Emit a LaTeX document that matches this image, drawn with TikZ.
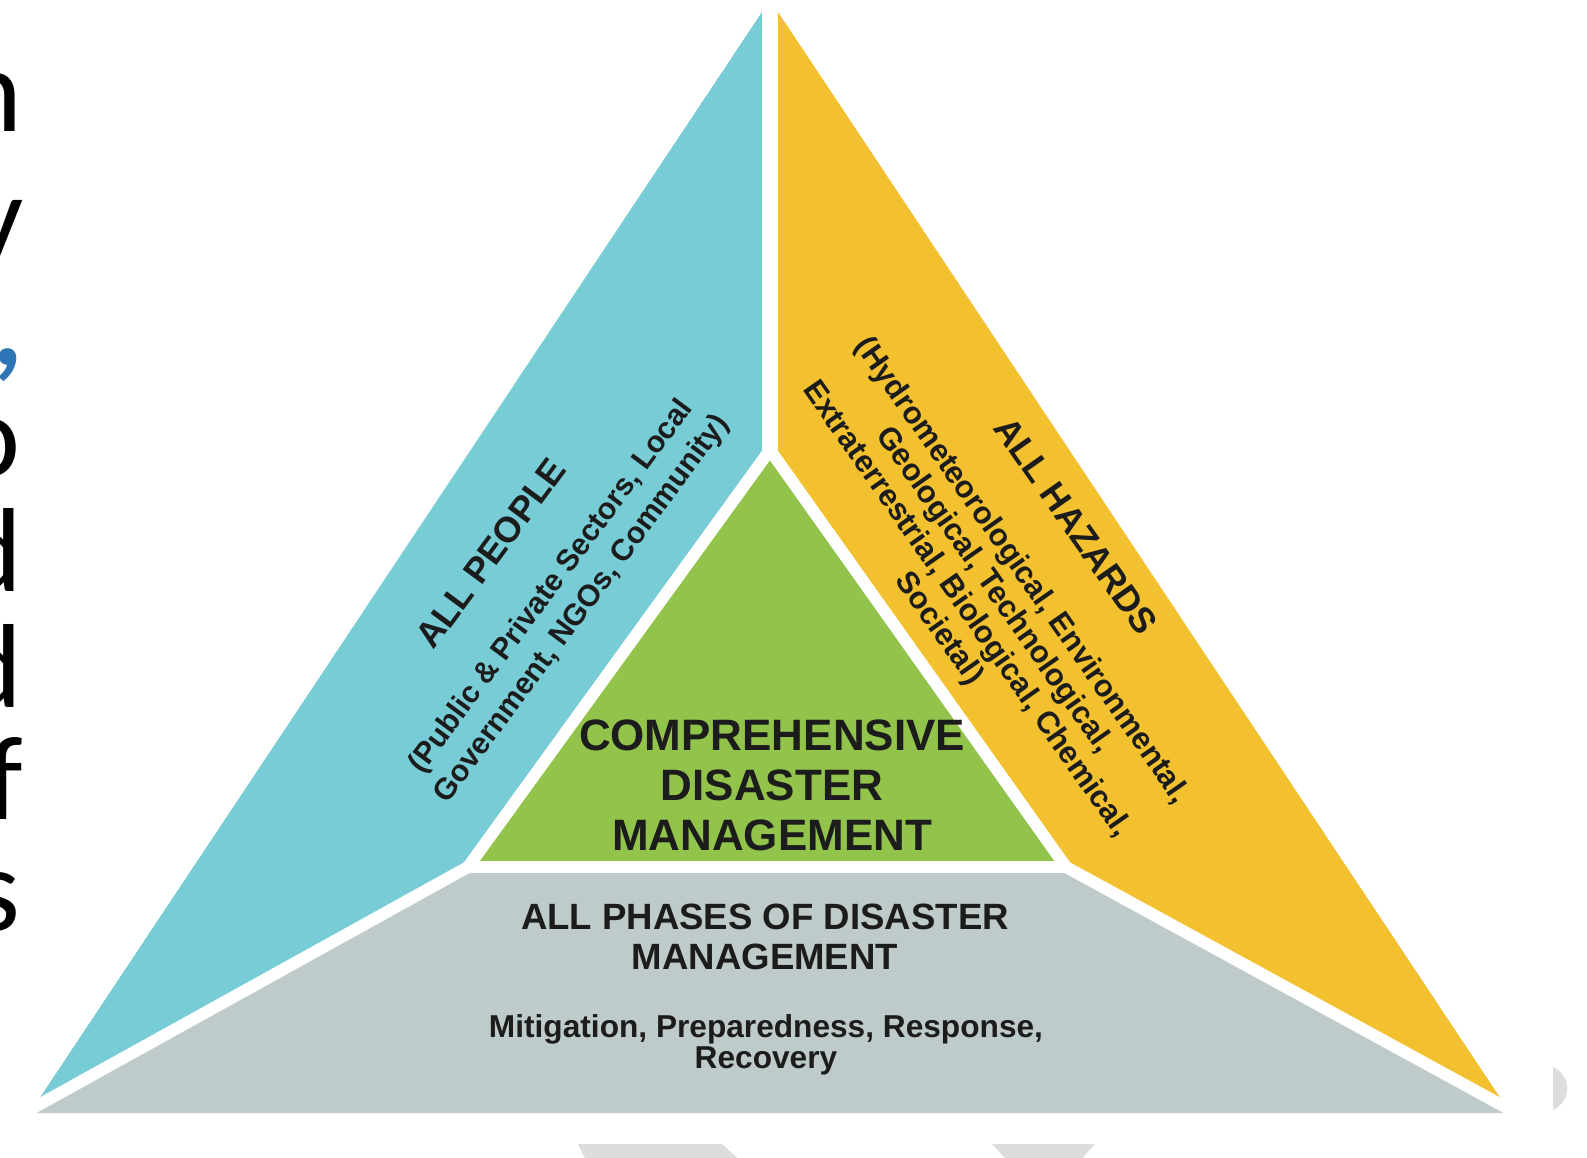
\documentclass[tikz,border=0pt]{standalone}
\usepackage{fontspec}
\setmainfont{Liberation Sans}
\newfontfamily\slidefont{Carlito}
\usetikzlibrary{calc}
\definecolor{peopleblue}{HTML}{78CCD6}
\definecolor{hazardyellow}{HTML}{F3C12F}
\definecolor{coregreen}{HTML}{92C34A}
\definecolor{phasegray}{HTML}{BECBCA}
\definecolor{markgray}{HTML}{DDDDDD}
\definecolor{commablue}{HTML}{2E75B6}
\definecolor{inkdark}{HTML}{1C1C1C}
\tikzset{
  tri text/.style={text=inkdark, align=center, inner sep=0pt},
  head text/.style={tri text, font=\fontsize{10.2}{12}\selectfont\bfseries},
  sub text/.style={tri text, font=\fontsize{8.6}{10.8}\selectfont\bfseries},
  slide letter/.style={anchor=base east, inner sep=0pt, font=\slidefont\fontsize{34}{34}\selectfont},
  gap line/.style={draw=white, line width=3.4pt, line join=miter},
}

\begin{document}
\begin{tikzpicture}[x=0.01cm, y=-0.01cm]
\useasboundingbox (0,0) rectangle (1587,1158);
\clip (0,0) rectangle (1587,1158);

% Corners of the big triangle and its parts
\coordinate (top) at (770,0);
\coordinate (core) at (770,450);
\coordinate (left) at (468,867);
\coordinate (right) at (1066,867);
\coordinate (outL) at (33,1108);
\coordinate (outR) at (1507,1108);
\coordinate (baseL) at (30,1113);
\coordinate (baseR) at (1512,1113);

% Fill the four parts
\fill[peopleblue] (top) -- (core) -- (left) -- (outL) -- cycle;
\fill[hazardyellow] (top) -- (core) -- (right) -- (outR) -- cycle;
\fill[coregreen] (core) -- (left) -- (right) -- cycle;
\fill[phasegray] (left) -- (right) -- (outR) -- (baseR) -- (baseL) -- (outL) -- cycle;

% White gaps between the parts
\draw[gap line, line width=4.3pt] ($(top)+(0,-20)$) -- (core);
\draw[gap line] (left) -- (core) -- (right) -- cycle;
\draw[gap line] (left) -- ($(left)!1.08!(outL)$);
\draw[gap line] (right) -- ($(right)!1.08!(outR)$);

% Labels in the parts
\node[tri text, font=\fontsize{12.5}{14.2}\selectfont\bfseries] (core text) at (772,785) {COMPREHENSIVE\\DISASTER\\MANAGEMENT};
\node[tri text, font=\fontsize{10.4}{11.4}\selectfont\bfseries] (phase head) at (765,937) {ALL PHASES OF DISASTER\\MANAGEMENT};
\node[tri text, font=\fontsize{9}{8.8}\selectfont\bfseries] (phase list) at (766,1045) {Mitigation, Preparedness, Response,\\Recovery};
\node[head text, rotate=53.5] (people head) at (491,553) {ALL PEOPLE};
\node[sub text, rotate=53.5] (people list) at (567,598) {(Public \& Private Sectors, Local\\Government, NGOs, Community)};
\node[head text, rotate=-55] (hazard head) at (1076,526) {ALL HAZARDS};
\node[sub text, rotate=-55, font=\fontsize{8.8}{9.6}\selectfont\bfseries] (hazard list) at (980,600) {(Hydrometeorological, Environmental,\\Geological, Technological,\\Extraterrestrial, Biological, Chemical,\\Societal)};

% Cut-off slide text on the left
\foreach \ch/\yb/\xr in {n/132/23, y/258/24, o/477/21, d/592/23, d/708/23, f/820/24, s/931/21}
  \node[slide letter] (letter-\yb) at (\xr,\yb) {\ch};
\node[slide letter, text=commablue, font=\slidefont\bfseries\fontsize{34}{34}\selectfont] (comma) at (24,366) {,};

% Faint marks at the edges
\fill[markgray] (578,1144) -- (722,1144) -- (745,1165) -- (588,1165) -- cycle;
\fill[markgray] (992,1144) -- (1095,1144) -- (1083,1157) -- (1093,1167) -- (1013,1167) -- cycle;
\fill[markgray] (1553,1067) .. controls (1572,1076) and (1572,1101) .. (1553,1110) -- cycle;
\end{tikzpicture}
\end{document}
